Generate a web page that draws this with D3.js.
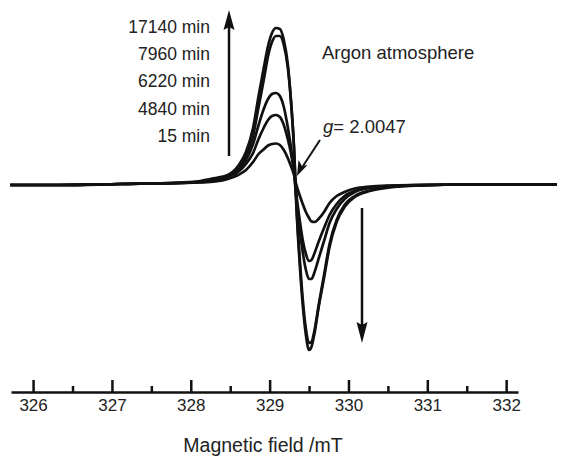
<!DOCTYPE html>
<html>
<head>
<meta charset="utf-8">
<script src="https://cdn.jsdelivr.net/npm/d3@7"></script>
<style>
  body { margin: 0; background: #fff; }
  text { font-family: "Liberation Sans", Arial, sans-serif; fill: #222; }
</style>
</head>
<body>
<div id="chart"></div>
<script>
// magnetic field grid (mT), shared by all spectra
const field = [325.71, 326.34, 327.10, 327.86, 328.12, 328.31, 328.47, 328.60, 328.70, 328.79,
  328.86, 328.93, 328.98, 329.03, 329.08, 329.13, 329.18, 329.23, 329.27, 329.31,
  329.34, 329.38, 329.42, 329.46, 329.50, 329.53, 329.57, 329.62, 329.69, 329.76,
  329.85, 329.95, 330.08, 330.27, 330.52, 330.90, 331.54, 332.17, 332.64];

// EPR signal intensity (a.u.) for each irradiation time
const s17140 = [-1, -1, 0, 1.5, 3, 6, 9, 18, 32, 56, 88, 118, 138, 151, 156, 155, 144, 120, 84, 34,
  -24, -78, -121, -151, -166, -163, -149, -124, -94, -63, -38, -23, -13, -7, -3.5, -1.5, -0.5, -0.5, -0.5];
const s7960 = [-1, -1, 0, 1, 2.5, 5, 8, 16, 28, 48, 77, 106, 128, 142, 148, 148, 139, 117, 84, 36,
  -20, -72, -115, -145, -159, -158, -146, -122, -91, -60, -36, -21, -12, -6.5, -3, -1.5, -0.5, -0.5, -0.5];
const s6220 = [-1, -1, 0, 1, 2, 4, 8, 14, 24, 40, 59, 76, 85, 90, 91, 88, 77, 57, 37, 11,
  -16, -44, -68, -86, -95, -95, -88, -75, -57, -39, -25, -15, -8, -4, -2, -1, -0.5, -0.5, -0.5];
const s4840 = [-1, -1, 0, 1, 2, 3.5, 7, 12, 20, 31, 45, 57, 64, 68, 69, 67, 59, 45, 31, 12,
  -11, -35, -56, -70, -77, -76, -69, -58, -44, -31, -20, -12, -7, -3.5, -2, -1, -0.5, -0.5, -0.5];
const s15 = [-1, -1, 0, 1, 1.5, 2.5, 5, 9, 14, 22, 30, 35, 38.5, 40, 40.5, 39, 34, 26, 18, 9,
  -1, -11, -20, -28, -34, -37.5, -38, -35, -28, -19, -12, -8, -4.5, -2.5, -1.5, -1, -0.5, -0.5, -0.5];

const series = [s17140, s7960, s6220, s4840, s15];
const timeLabels = ["17140 min", "7960 min", "6220 min", "4840 min", "15 min"];
const majorTicks = [326, 327, 328, 329, 330, 331, 332];
const minorTicks = [326.5, 327.5, 328.5, 329.5, 330.5, 331.5];

const svgWidth = 562, svgHeight = 456;

const svg = d3.select("#chart")
    .append("svg")
    .attr("width", svgWidth)
    .attr("height", svgHeight);

const x = d3.scaleLinear()
    .domain([325.72, 332.15])
    .range([11, 518]);

const y = d3.scaleLinear()
    .domain([-208, 184])
    .range([392, 0]);

// spectra
const line = d3.line()
    .x((d, i) => x(field[i]))
    .y(d => y(d))
    .curve(d3.curveMonotoneX);

svg.selectAll(".spectrum")
    .data(series)
    .enter().append("path")
    .attr("class", "spectrum")
    .attr("d", line)
    .attr("fill", "none")
    .attr("stroke", "#111")
    .attr("stroke-width", 2.7);

// axis with upward ticks
const axisY = 392;
const xAxis = d3.axisBottom(x)
    .tickValues(majorTicks)
    .tickSizeInner(-12)
    .tickSizeOuter(0)
    .tickPadding(7)
    .tickFormat(d3.format("d"));

const gx = svg.append("g")
    .attr("transform", `translate(0,${axisY})`)
    .call(xAxis);
gx.select(".domain").attr("stroke", "#111").attr("stroke-width", 2.3);
gx.selectAll(".tick line").attr("stroke", "#111").attr("stroke-width", 2.5);
gx.selectAll(".tick text")
    .style("font-size", "17px")
    .style("font-family", "'Liberation Sans', Arial, sans-serif")
    .attr("fill", "#222");

const gMinor = svg.append("g")
    .attr("transform", `translate(0,${axisY})`)
    .call(d3.axisBottom(x).tickValues(minorTicks).tickSizeInner(-6).tickSizeOuter(0).tickFormat(""));
gMinor.select(".domain").remove();
gMinor.selectAll(".tick line").attr("stroke", "#111").attr("stroke-width", 2.5);

svg.append("text")
    .attr("x", 263)
    .attr("y", 452)
    .attr("text-anchor", "middle")
    .style("font-size", "19.5px")
    .text("Magnetic field /mT");

// time labels and up arrow
svg.selectAll(".time")
    .data(timeLabels)
    .enter().append("text")
    .attr("class", "time")
    .attr("x", 210)
    .attr("y", (d, i) => 33 + i * 27.2)
    .attr("text-anchor", "end")
    .style("font-size", "17.5px")
    .text(d => d);

svg.append("line")
    .attr("x1", 229).attr("y1", 156)
    .attr("x2", 229).attr("y2", 26)
    .attr("stroke", "#111").attr("stroke-width", 2.5);
svg.append("path")
    .attr("d", "M229,10 L223.5,30 L229,27 L234.5,30 Z")
    .attr("fill", "#111");

// down arrow
svg.append("line")
    .attr("x1", 362).attr("y1", 208)
    .attr("x2", 362).attr("y2", 326)
    .attr("stroke", "#111").attr("stroke-width", 2.5);
svg.append("path")
    .attr("d", "M362,343 L356.5,322 L362,325 L367.5,322 Z")
    .attr("fill", "#111");

// annotations
svg.append("text")
    .attr("x", 322).attr("y", 59)
    .style("font-size", "18.5px")
    .text("Argon atmosphere");

const gText = svg.append("text")
    .attr("x", 323).attr("y", 133)
    .style("font-size", "18.5px");
gText.append("tspan").style("font-style", "italic").text("g");
gText.append("tspan").text("= 2.0047");

svg.append("line")
    .attr("x1", 320).attr("y1", 140)
    .attr("x2", 303).attr("y2", 166)
    .attr("stroke", "#111").attr("stroke-width", 2);
svg.append("path")
    .attr("d", "M297,176 L298.5,160 L302,166 L307.5,165 Z")
    .attr("fill", "#111");
</script>
</body>
</html>
